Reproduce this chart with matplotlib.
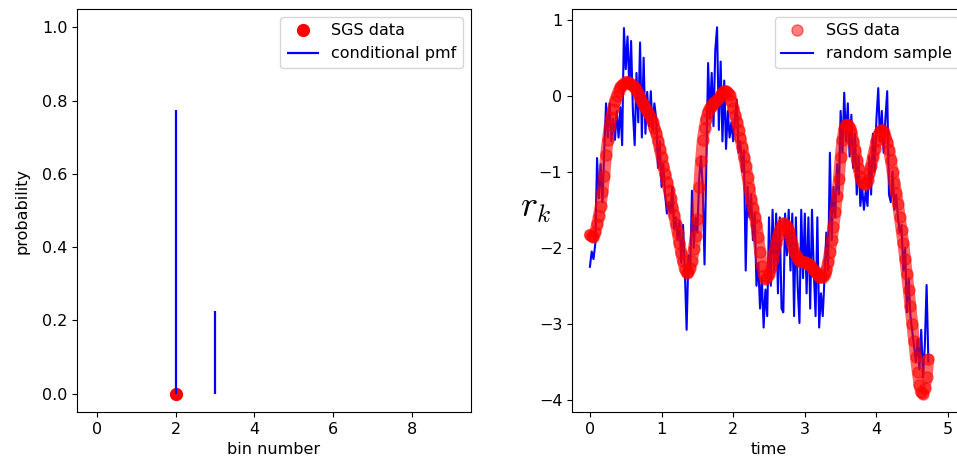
import numpy as np
import matplotlib.pyplot as plt

# painel esquerdo: pmf condicional
bins = [2, 3]
pmf = [0.775, 0.225]
sgs_bin = 2
sgs_prob = 0.0

# painel direito: serie temporal
dt = 0.025
sgs = [-1.83, -1.85, -1.86, -1.79, -1.69, -1.58, -1.45, -1.27, -1.06, -0.78,
       -0.58, -0.40, -0.28, -0.17, -0.07, 0.00, 0.06, 0.11, 0.14, 0.16,
       0.18, 0.18, 0.17, 0.15, 0.13, 0.11, 0.08, 0.03, -0.03, -0.08,
       -0.12, -0.16, -0.20, -0.24, -0.29, -0.35, -0.42, -0.49, -0.59, -0.70,
       -0.81, -0.92, -1.03, -1.14, -1.24, -1.35, -1.46, -1.57, -1.69, -1.81,
       -1.94, -2.07, -2.18, -2.28, -2.33, -2.32, -2.26, -2.17, -2.02, -1.85,
       -1.62, -1.20, -0.86, -0.58, -0.42, -0.30, -0.21, -0.16, -0.13, -0.10,
       -0.08, -0.06, -0.03, 0.01, 0.04, 0.06, 0.06, 0.04, 0.01, -0.07,
       -0.16, -0.25, -0.34, -0.45, -0.56, -0.67, -0.80, -0.93, -1.07, -1.22,
       -1.36, -1.48, -1.59, -1.70, -1.86, -2.05, -2.24, -2.36, -2.41, -2.39,
       -2.35, -2.27, -2.16, -2.05, -1.94, -1.84, -1.77, -1.71, -1.68, -1.69,
       -1.73, -1.78, -1.86, -1.95, -2.04, -2.10, -2.14, -2.17, -2.18, -2.19,
       -2.19, -2.20, -2.21, -2.23, -2.26, -2.29, -2.32, -2.35, -2.38, -2.39,
       -2.38, -2.35, -2.29, -2.19, -2.05, -1.90, -1.73, -1.53, -1.32, -1.10,
       -0.80, -0.58, -0.44, -0.38, -0.38, -0.42, -0.48, -0.59, -0.71, -0.84,
       -0.96, -1.06, -1.13, -1.16, -1.16, -1.11, -1.02, -0.92, -0.81, -0.70,
       -0.60, -0.52, -0.47, -0.45, -0.48, -0.54, -0.61, -0.72, -0.85, -1.00,
       -1.15, -1.28, -1.42, -1.59, -1.76, -1.94, -2.15, -2.35, -2.55, -2.77,
       -3.00, -3.23, -3.44, -3.63, -3.80, -3.90, -3.92, -3.84, -3.70, -3.47]
amostra = [-2.25, -2.05, -2.15, -1.95, -0.82, -1.35, -0.90, -1.40, -0.75, -0.10,
           -0.55, -0.10, -0.60, -0.30, -0.58, -0.20, -0.55, -0.15, -0.65, 0.89,
           0.35, 0.78, 0.10, 0.72, -0.20, -0.65, 0.30, -0.35, 0.70, -0.55,
           0.50, -0.50, 0.05, -0.40, 0.06, -0.45, -0.10, -0.30, -0.95, -0.60,
           -1.20, -0.90, -1.30, -1.55, -1.40, -1.55, -1.20, -1.75, -1.60, -1.90,
           -1.65, -2.20, -1.70, -2.30, -3.08, -2.10, -2.30, -1.25, -2.00, -1.60,
           -1.80, -1.10, -0.80, -1.20, -2.22, -0.90, 0.43, -0.30, 0.30, -0.40,
           0.60, 0.90, -0.45, 0.45, -0.60, 0.20, -0.70, -0.20, -0.55, -0.35,
           -0.60, -0.30, -0.05, -0.75, -0.60, -1.00, -0.72, -2.30, -1.20, -1.60,
           -1.30, -1.90, -1.55, -2.50, -2.20, -2.80, -2.40, -3.05, -2.55, -2.90,
           -1.60, -2.50, -1.50, -2.30, -1.55, -2.60, -1.60, -2.80, -2.85, -1.55,
           -2.10, -1.50, -2.30, -1.55, -2.90, -1.60, -2.50, -2.99, -1.50, -2.40,
           -1.55, -2.60, -1.60, -2.80, -1.50, -2.30, -2.90, -1.60, -3.05, -2.60,
           -2.90, -2.40, -1.80, -2.30, -0.75, -1.90, -1.20, -1.60, -0.90, -1.30,
           -0.20, -0.75, 0.04, -0.60, -0.10, -0.80, -0.25, -0.95, -0.50, -1.30,
           -0.80, -1.45, -1.20, -1.50, -1.25, -1.45, -0.80, -1.30, -0.50, -1.00,
           -0.30, 0.10, -0.60, -0.20, -0.75, -0.30, 0.06, -1.30, -1.40, -1.00,
           -1.50, -1.30, -1.60, -1.80, -1.70, -2.30, -2.00, -2.85, -2.40, -2.90,
           -3.10, -3.30, -3.50, -3.20, -3.60, -3.08, -3.70, -3.30, -2.49, -3.50]
tempo = np.arange(len(sgs)) * dt

plt.rcParams['font.size'] = 11.5
plt.rcParams['mathtext.fontset'] = 'cm'

fig = plt.figure(figsize=(9.57, 4.67), dpi=100)
ax1 = fig.add_axes([77 / 957, 55 / 467, 394 / 957, 403 / 467])
ax2 = fig.add_axes([572 / 957, 55 / 467, 394 / 957, 403 / 467])

ax1.plot(sgs_bin, sgs_prob, 'ro', ms=8.5, label='SGS data')
ax1.vlines(bins, 0, pmf, colors='b', lw=1.6, label='conditional pmf')
ax1.set_xlim(-0.5, 9.5)
ax1.set_ylim(-0.05, 1.05)
ax1.set_xticks([0, 2, 4, 6, 8])
ax1.set_xlabel('bin number')
ax1.set_ylabel('probability', labelpad=9)
ax1.legend(loc='upper right')

ax2.plot(tempo, amostra, 'b-', lw=1.5, label='random sample', zorder=2)
# faixa densa dos circulos
ax2.plot(tempo, sgs, '-', color='red', lw=8.5, alpha=0.6,
         solid_capstyle='round', solid_joinstyle='round', zorder=3)
ax2.plot(tempo, sgs, 'ro', alpha=0.5, ms=8, label='SGS data', zorder=4)
ax2.set_xlim(-0.25, 5.25)
ax2.set_xlabel('time')
ax2.set_ylabel('$r_k$', fontsize=26, rotation=0, ha='center', va='center')
ax2.yaxis.set_label_coords(-0.092, 0.505)
h, l = ax2.get_legend_handles_labels()
ax2.legend(h[::-1], l[::-1], loc='upper right')

fig.savefig('out.png', dpi=100)
